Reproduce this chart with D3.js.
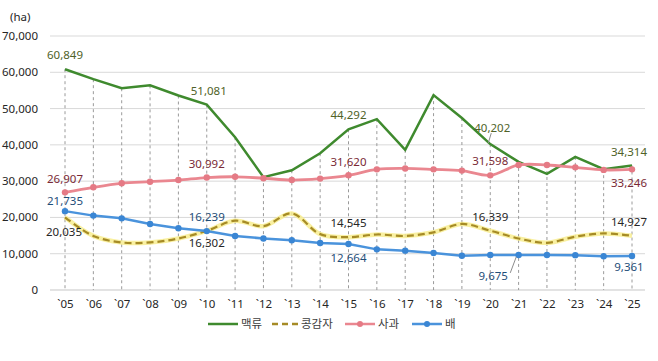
<!DOCTYPE html>
<html lang="ko">
<head>
<meta charset="UTF-8">
<title>재배면적 추이</title>
<script src="https://d3js.org/d3.v7.min.js"></script>
<style>
  body { margin: 0; background: #fff; }
  svg { display: block; font-family: "Noto Sans", "Noto Sans CJK KR", sans-serif; }
</style>
</head>
<body>
<script>
// years and series (ha)
const years = ["`05","`06","`07","`08","`09","`10","`11","`12","`13","`14","`15",
               "`16","`17","`18","`19","`20","`21","`22","`23","`24","`25"];
const barley = [60849, 58100, 55600, 56400, 53600, 51081, 42100, 31100, 33000, 37700, 44292,
                47100, 38600, 53700, 47400, 40202, 35300, 32000, 36700, 33300, 34314];
const beanPotato = [20035, 14900, 13100, 13100, 14200, 16302, 19100, 17600, 21100, 15400, 14545,
                    15300, 14900, 15900, 18200, 16339, 14200, 13000, 14700, 15600, 14927];
const apple = [26907, 28300, 29400, 29850, 30300, 30992, 31200, 30800, 30300, 30700, 31620,
               33250, 33500, 33250, 32900, 31598, 34450, 34450, 33800, 33100, 33246];
const pear = [21735, 20500, 19750, 18200, 17000, 16239, 14900, 14200, 13700, 12950, 12664,
              11200, 10850, 10200, 9450, 9675, 9650, 9650, 9600, 9300, 9361];
const yTicks = [0, 10000, 20000, 30000, 40000, 50000, 60000, 70000];
const seriesNames = ["맥류", "콩감자", "사과", "배"];

const W = 658, H = 361;
const svg = d3.select("body").append("svg").attr("width", W).attr("height", H);

const x = d3.scalePoint().domain(years).range([65, 632]);
const y = d3.scaleLinear().domain([0, 70000]).range([290, 36]);

// gridlines
svg.append("g").selectAll("line").data(yTicks).join("line")
  .attr("x1", 50).attr("x2", 645)
  .attr("y1", d => y(d)).attr("y2", d => y(d))
  .attr("stroke", "#d9d9d9").attr("stroke-width", 1);

// y labels
svg.append("g").selectAll("text").data(yTicks).join("text")
  .attr("x", 38).attr("y", d => y(d)).attr("dy", "0.35em")
  .attr("text-anchor", "end").attr("font-size", 11.5).attr("fill", "#262626")
  .text(d => d3.format(",")(d));

svg.append("text").attr("x", 10).attr("y", 21).attr("font-size", 11.5)
  .attr("fill", "#262626").text("(ha)");

// x axis
const xAxis = d3.axisBottom(x).tickSize(0).tickPadding(10);
const gx = svg.append("g").attr("transform", `translate(0,${y(0)})`).call(xAxis);
gx.select(".domain").attr("d", "M50,0H645").attr("stroke", "#d9d9d9");
gx.selectAll("text").attr("font-size", 11.5).attr("fill", "#262626")
  .attr("font-family", "\"Noto Sans\", sans-serif");

// drop lines from highest point
svg.append("g").selectAll("line").data(years).join("line")
  .attr("x1", d => x(d)).attr("x2", d => x(d))
  .attr("y1", (d, i) => y(Math.max(barley[i], beanPotato[i], apple[i], pear[i])))
  .attr("y2", y(0))
  .attr("stroke", "#9a9a9a").attr("stroke-width", 1).attr("stroke-dasharray", "3,3");

const straight = d3.line().x((d, i) => x(years[i])).y(d => y(d));
const smooth = d3.line().x((d, i) => x(years[i])).y(d => y(d)).curve(d3.curveCatmullRom.alpha(0.5));

// 맥류
svg.append("path").datum(barley).attr("d", straight)
  .attr("fill", "none").attr("stroke", "#3f8a2e").attr("stroke-width", 2.5);

// 콩감자
svg.append("path").datum(beanPotato).attr("d", smooth)
  .attr("fill", "none").attr("stroke", "#f7ec8a").attr("stroke-width", 4.5).attr("opacity", 0.8);
svg.append("path").datum(beanPotato).attr("d", smooth)
  .attr("fill", "none").attr("stroke", "#a68b26").attr("stroke-width", 2.2)
  .attr("stroke-dasharray", "7,4");

// 사과
svg.append("path").datum(apple).attr("d", smooth)
  .attr("fill", "none").attr("stroke", "#ea8790").attr("stroke-width", 2.8);
svg.append("g").selectAll("circle").data(apple).join("circle")
  .attr("cx", (d, i) => x(years[i])).attr("cy", d => y(d)).attr("r", 3.2)
  .attr("fill", "#e57a85");

// 배
svg.append("path").datum(pear).attr("d", straight)
  .attr("fill", "none").attr("stroke", "#4a93dc").attr("stroke-width", 2.5);
svg.append("g").selectAll("circle").data(pear).join("circle")
  .attr("cx", (d, i) => x(years[i])).attr("cy", d => y(d)).attr("r", 3.2)
  .attr("fill", "#3a86d4");

// data labels: series, year index, offset
const seriesData = [barley, beanPotato, apple, pear];
const labelColors = ["#4f6228", "#262626", "#7a2a36", "#1f4e79"];
const labels = [
  [0, 0, 0, -14], [0, 5, 2, -14], [0, 10, 0, -14], [0, 15, 2, -16], [0, 20, -3, -14],
  [2, 0, 0, -13], [2, 5, 0, -14], [2, 10, 0, -13], [2, 15, 0, -14], [2, 20, -3, 14],
  [1, 0, -1, 15], [1, 5, 0, 12], [1, 10, 0, -14], [1, 15, 0, -14], [1, 20, -3, -14],
  [3, 0, 0, -10], [3, 5, 0, -14], [3, 10, 0, 14], [3, 15, 3, 21], [3, 20, -3, 11]
];
svg.append("g").selectAll("text").data(labels).join("text")
  .attr("x", d => x(years[d[1]]) + d[2])
  .attr("y", d => y(seriesData[d[0]][d[1]]) + d[3])
  .attr("dy", "0.35em").attr("text-anchor", "middle")
  .attr("font-size", 11.5).attr("fill", d => labelColors[d[0]])
  .text(d => d3.format(",")(seriesData[d[0]][d[1]]));

// leader lines for the '20 labels
svg.append("line")
  .attr("x1", x(years[15]) + 1).attr("y1", y(barley[15]) - 11)
  .attr("x2", x(years[15]) - 2).attr("y2", y(barley[15]) - 1)
  .attr("stroke", "#8c8c8c");
svg.append("line")
  .attr("x1", x(years[15]) + 20).attr("y1", y(pear[15]) + 18)
  .attr("x2", x(years[15]) + 26).attr("y2", y(pear[15]) + 2)
  .attr("stroke", "#8c8c8c");

// legend
const legend = svg.append("g").attr("transform", "translate(0,324)");
const legendX = [208, 272, 345, 412];
const legendW = [30, 26, 30, 30];
const legendColors = ["#3f8a2e", "#a68b26", "#ea8790", "#4a93dc"];
seriesNames.forEach((name, i) => {
  const g = legend.append("g").attr("transform", `translate(${legendX[i]},0)`);
  g.append("line").attr("x1", 0).attr("x2", legendW[i]).attr("y1", 0).attr("y2", 0)
    .attr("stroke", legendColors[i]).attr("stroke-width", 2.5)
    .attr("stroke-dasharray", i === 1 ? "6,4" : null);
  if (i >= 2) {
    g.append("circle").attr("cx", legendW[i] / 2).attr("cy", 0).attr("r", 3)
      .attr("fill", i === 2 ? "#e57a85" : "#3a86d4");
  }
  g.append("text").attr("x", legendW[i] + 3).attr("y", 0).attr("dy", "0.35em")
    .attr("font-size", 11.5).attr("fill", "#404040")
    .attr("font-family", "\"Noto Sans CJK KR\", sans-serif")
    .text(name);
});
</script>
</body>
</html>
